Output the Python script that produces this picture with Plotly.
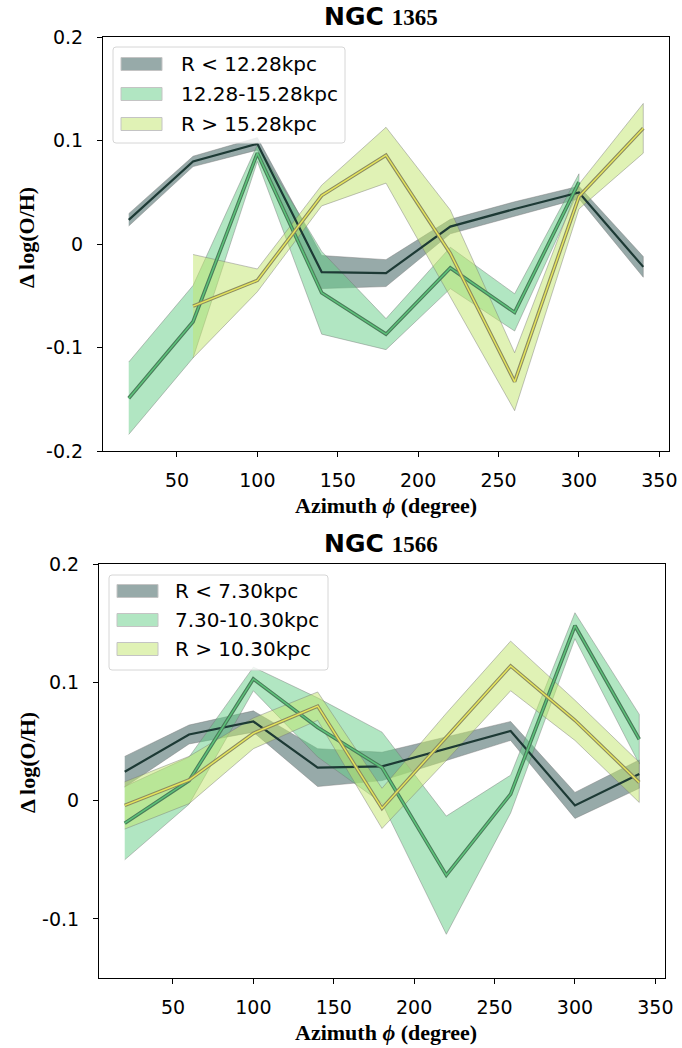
import plotly.graph_objects as go

# ---------------- data ----------------
# NGC 1365
n1365_labels = ["R < 12.28kpc", "12.28-15.28kpc", "R > 15.28kpc"]
n1365_in_x = [20, 60, 100, 140, 180, 220, 260, 300, 340]
n1365_in = [0.0235, 0.080, 0.097, -0.027, -0.028, 0.017, 0.034, 0.050, -0.022]
n1365_in_err = [0.006, 0.005, 0.006, 0.016, 0.013, 0.007, 0.007, 0.006, 0.010]
n1365_mid_x = [20, 60, 100, 140, 180, 220, 260, 300]
n1365_mid = [-0.149, -0.075, 0.088, -0.047, -0.087, -0.023, -0.066, 0.060]
n1365_mid_err = [0.035, 0.035, 0.008, 0.040, 0.015, 0.020, 0.018, 0.008]
n1365_out_x = [60, 100, 140, 180, 220, 260, 300, 340]
n1365_out = [-0.060, -0.035, 0.047, 0.086, -0.009, -0.133, 0.046, 0.112]
n1365_out_err = [0.050, 0.011, 0.010, 0.027, 0.042, 0.028, 0.012, 0.024]

# NGC 1566
n1566_labels = ["R < 7.30kpc", "7.30-10.30kpc", "R > 10.30kpc"]
n1566_in_x = [20, 60, 100, 140, 180, 220, 260, 300, 340]
n1566_in = [0.0245, 0.056, 0.067, 0.028, 0.029, 0.044, 0.059, -0.004, 0.0225]
n1566_in_err = [0.013, 0.008, 0.009, 0.016, 0.012, 0.010, 0.008, 0.011, 0.012]
n1566_mid_x = [20, 60, 100, 140, 180, 220, 260, 300, 340]
n1566_mid = [-0.019, 0.017, 0.103, 0.062, 0.028, -0.063, 0.0056, 0.148, 0.052]
n1566_mid_err = [0.031, 0.020, 0.010, 0.025, 0.030, 0.050, 0.016, 0.011, 0.021]
n1566_out_x = [20, 60, 100, 140, 180, 220, 260, 300, 340]
n1566_out = [-0.004, 0.0175, 0.057, 0.080, -0.0065, 0.054, 0.114, 0.068, 0.0155]
n1566_out_err = [0.020, 0.020, 0.013, 0.012, 0.017, 0.020, 0.021, 0.017, 0.017]

x_ticks = [50, 100, 150, 200, 250, 300, 350]
y_ticks_top = [-0.2, -0.1, 0, 0.1, 0.2]
y_ticklabels_top = ["-0.2", "-0.1", "0", "0.1", "0.2"]
y_ticks_bot = [-0.1, 0, 0.1, 0.2]
y_ticklabels_bot = ["-0.1", "0", "0.1", "0.2"]
titles = ["1365", "1566"]

# ---------------- style / geometry ----------------
W, H = 682, 1048
ML, MR, MT, MB = 99, 13, 37, 70
PW = W - ML - MR
PH = H - MT - MB

band_fill = ["rgba(47,85,83,0.5)", "rgba(99,205,133,0.5)", "rgba(193,229,107,0.5)"]
swatch_fill = ["#97aaa9", "#b1e6c2", "#e0f2b5"]
band_edge = "rgba(120,120,120,0.55)"
line_outer = ["#1d3a35", "#4a7d5a", "#8c8c60"]
line_inner = [None, "#5cc47a", "#e6e65a"]


def px2x(p):
    return (p - ML) / PW


def px2y(p):
    return 1 - (p - MT) / PH


fig = go.Figure()


def add_band(xs, ys, es, i, xa, ya):
    up = [y + e for y, e in zip(ys, es)]
    lo = [y - e for y, e in zip(ys, es)]
    fig.add_trace(go.Scatter(
        x=list(xs) + list(xs)[::-1], y=up + lo[::-1], fill="toself",
        fillcolor=band_fill[i], mode="lines",
        line=dict(color=band_edge, width=0.8),
        showlegend=False, xaxis=xa, yaxis=ya, hoverinfo="skip"))


def add_line(xs, ys, i, xa, ya):
    if line_inner[i] is None:
        fig.add_trace(go.Scatter(x=xs, y=ys, mode="lines",
                                 line=dict(color=line_outer[i], width=2.2),
                                 showlegend=False, xaxis=xa, yaxis=ya))
    else:
        fig.add_trace(go.Scatter(x=xs, y=ys, mode="lines",
                                 line=dict(color=line_outer[i], width=3.6),
                                 showlegend=False, xaxis=xa, yaxis=ya))
        fig.add_trace(go.Scatter(x=xs, y=ys, mode="lines",
                                 line=dict(color=line_inner[i], width=1.4),
                                 showlegend=False, xaxis=xa, yaxis=ya))


top = [(n1365_in_x, n1365_in, n1365_in_err), (n1365_mid_x, n1365_mid, n1365_mid_err),
       (n1365_out_x, n1365_out, n1365_out_err)]
bot = [(n1566_in_x, n1566_in, n1566_in_err), (n1566_mid_x, n1566_mid, n1566_mid_err),
       (n1566_out_x, n1566_out, n1566_out_err)]

for i, (xs, ys, es) in enumerate(top):
    add_band(xs, ys, es, i, "x", "y")
for i, (xs, ys, es) in enumerate(top):
    add_line(xs, ys, i, "x", "y")
for i, (xs, ys, es) in enumerate(bot):
    add_band(xs, ys, es, i, "x2", "y2")
for i, (xs, ys, es) in enumerate(bot):
    add_line(xs, ys, i, "x2", "y2")

tickfont = dict(family="DejaVu Sans", size=19, color="black")
axis_common = dict(showgrid=False, zeroline=False, showline=True, linecolor="black",
                   linewidth=1, mirror=True, ticks="outside", ticklen=5, tickwidth=1,
                   tickcolor="black", tickfont=tickfont, automargin=False)

# subplot frames in pixels: (left, right, top, bottom)
frames = [(103, 669, 37.3, 451), (99, 665, 564.3, 978)]

fig.update_layout(
    width=W, height=H, margin=dict(l=ML, r=MR, t=MT, b=MB),
    paper_bgcolor="white", plot_bgcolor="white", showlegend=False,
    xaxis=dict(axis_common, range=[4, 356], tickvals=x_ticks, anchor="y",
               domain=[px2x(frames[0][0]), px2x(frames[0][1])], ticklabelstandoff=7),
    yaxis=dict(axis_common, range=[-0.2, 0.2], tickvals=y_ticks_top,
               ticktext=y_ticklabels_top, anchor="x", ticklabelstandoff=10,
               domain=[px2y(frames[0][3]), px2y(frames[0][2])]),
    xaxis2=dict(axis_common, range=[4, 356], tickvals=x_ticks, anchor="y2",
                domain=[px2x(frames[1][0]), px2x(frames[1][1])], ticklabelstandoff=7),
    yaxis2=dict(axis_common, range=[-0.15, 0.2], tickvals=y_ticks_bot,
                ticktext=y_ticklabels_bot, anchor="x2", ticklabelstandoff=10,
                domain=[px2y(frames[1][3]), px2y(frames[1][2])]),
)

# ---------------- legends (drawn as shapes + text) ----------------
legend_specs = [
    dict(box=(113, 345, 47, 143), sw=(121, 162), rows=[64, 94, 124], tx=179, labels=n1365_labels),
    dict(box=(109, 328, 575, 670), sw=(117, 158), rows=[591, 620, 649], tx=173, labels=n1566_labels),
]
shapes = []
ann = []
for spec in legend_specs:
    x0, x1, y0, y1 = spec["box"]
    r = 3
    path = (f"M {px2x(x0 + r)},{px2y(y0)} L {px2x(x1 - r)},{px2y(y0)} "
            f"Q {px2x(x1)},{px2y(y0)} {px2x(x1)},{px2y(y0 + r)} "
            f"L {px2x(x1)},{px2y(y1 - r)} Q {px2x(x1)},{px2y(y1)} {px2x(x1 - r)},{px2y(y1)} "
            f"L {px2x(x0 + r)},{px2y(y1)} Q {px2x(x0)},{px2y(y1)} {px2x(x0)},{px2y(y1 - r)} "
            f"L {px2x(x0)},{px2y(y0 + r)} Q {px2x(x0)},{px2y(y0)} {px2x(x0 + r)},{px2y(y0)} Z")
    shapes.append(dict(type="path", path=path, xref="paper", yref="paper",
                       fillcolor="rgba(255,255,255,0.8)", line=dict(color="#d6d6d6", width=1),
                       layer="above"))
    for k, ry in enumerate(spec["rows"]):
        shapes.append(dict(type="rect", xref="paper", yref="paper",
                           x0=px2x(spec["sw"][0]), x1=px2x(spec["sw"][1]),
                           y0=px2y(ry - 6.5), y1=px2y(ry + 6.5),
                           fillcolor=swatch_fill[k], line=dict(color="#c4c4c4", width=1),
                           layer="above"))
        ann.append(dict(text=spec["labels"][k], x=px2x(spec["tx"]), y=px2y(ry),
                        xref="paper", yref="paper", xanchor="left", yanchor="middle",
                        showarrow=False, font=dict(family="DejaVu Sans", size=20, color="black")))

serif = "Liberation Serif"
title_tpl = ("<b>NGC</b> <span style=\"font-family:'Liberation Serif';font-size:23px\">"
             "<b>%s</b></span>")
for txt, yp in zip(titles, [16, 543]):
    ann.append(dict(text=title_tpl % txt, x=px2x(381), y=px2y(yp), xref="paper", yref="paper",
                    xanchor="center", yanchor="middle", showarrow=False,
                    font=dict(family="DejaVu Sans", size=25, color="black")))
for yp in [505, 1032]:
    ann.append(dict(text="<b>Azimuth <i>ϕ</i> (degree)</b>", x=px2x(386), y=px2y(yp),
                    xref="paper", yref="paper", xanchor="center", yanchor="middle",
                    showarrow=False, font=dict(family=serif, size=22, color="black")))
for yp in [238, 763]:
    ann.append(dict(text="<b>Δ log(O/H)</b>", x=px2x(27), y=px2y(yp),
                    xref="paper", yref="paper", xanchor="center", yanchor="middle",
                    textangle=-90, showarrow=False,
                    font=dict(family=serif, size=22, color="black")))
fig.update_layout(annotations=ann, shapes=shapes)

fig.write_html("out.html", config={"displayModeBar": False},
               post_script="document.body.style.margin='0';document.body.style.overflow='hidden';")
